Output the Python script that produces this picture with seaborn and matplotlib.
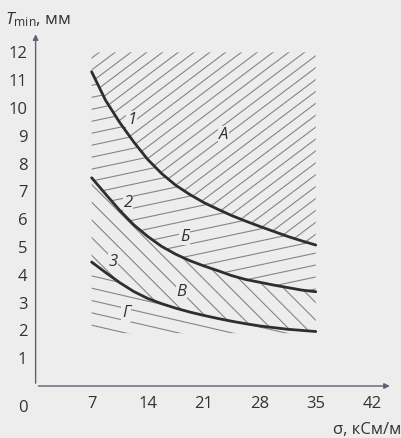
import numpy as np
import pandas as pd
import matplotlib
matplotlib.use('Agg')
import matplotlib.pyplot as plt
from matplotlib.collections import LineCollection
import seaborn as sns

# values
sigma = [7, 8.75, 10.5, 12.25, 14, 15.75, 17.5, 19.25, 21,
         22.75, 24.5, 26.25, 28, 29.75, 31.5, 33.25, 35]
curve1 = [11.3, 10.27, 9.48, 8.78, 8.15, 7.64, 7.22, 6.89, 6.6,
          6.36, 6.13, 5.93, 5.74, 5.56, 5.38, 5.22, 5.07]
curve2 = [7.49, 6.9, 6.32, 5.8, 5.38, 5.02, 4.74, 4.51, 4.32,
          4.15, 3.97, 3.83, 3.73, 3.63, 3.54, 3.45, 3.39]
curve3 = [4.46, 4.08, 3.72, 3.4, 3.15, 2.96, 2.8, 2.66, 2.54,
          2.43, 2.33, 2.24, 2.16, 2.1, 2.04, 2.0, 1.96]
zone_top = 12
zone_bottom = 1.9

x_ticks = [7, 14, 21, 28, 35, 42]
y_ticks = list(range(1, 13))
curve_names = ['1', '2', '3']
zone_names = ['А', 'Б', 'В', 'Г']

df = pd.DataFrame({
    'sigma': sigma * 3,
    'T': curve1 + curve2 + curve3,
    'curve': sum([[n] * len(sigma) for n in curve_names], []),
})

sns.set_style('white')
plt.rcParams['font.family'] = ['Open Sans', 'DejaVu Sans']
plt.rcParams['mathtext.fontset'] = 'custom'
plt.rcParams['mathtext.it'] = 'Open Sans:italic'
plt.rcParams['mathtext.rm'] = 'Open Sans'

bg = '#ededed'
txt = '#333333'
axis_col = '#5c6272'
hatch_col = '#858585'

fig = plt.figure(figsize=(4.02, 4.38), dpi=100, facecolor=bg)
ax = fig.add_axes([0.0886, 0.1187, 0.888, 0.8094])
ax.set_facecolor(bg)
ax.set_xlim(0, 44.6)
ax.set_ylim(0, 12.75)


def hatch(ax, poly, angle, step, color=hatch_col, lw=0.8):
    # parallel lines in pixel space, clipped to the region polygon
    a = np.deg2rad(angle)
    d = np.array([np.cos(a), np.sin(a)])
    n = np.array([-np.sin(a), np.cos(a)])
    bb = ax.bbox
    c = np.array([(bb.x0 + bb.x1) / 2, (bb.y0 + bb.y1) / 2])
    L = max(bb.width, bb.height)
    inv = ax.transData.inverted()
    segs = []
    for k in np.arange(-L, L, step):
        p = c + n * k
        segs.append(inv.transform(np.array([p - d * L, p + d * L])))
    lc = LineCollection(segs, colors=color, linewidths=lw)
    ax.add_collection(lc, autolim=False)
    lc.set_clip_path(poly.get_paths()[0], poly.get_transform())


s = np.array(sigma)
regions = [
    (ax.fill_between(s, curve1, zone_top, color='none', lw=0), 37, 9.5),
    (ax.fill_between(s, curve2, curve1, color='none', lw=0), 12, 11.7),
    (ax.fill_between(s, curve3, curve2, color='none', lw=0), -45, 12.5),
    (ax.fill_between(s, zone_bottom, curve3, color='none', lw=0), -13, 12),
]
for poly, ang, step in regions:
    hatch(ax, poly, ang, step)

sns.lineplot(data=df, x='sigma', y='T', units='curve', estimator=None,
             color='#2e2e2e', lw=2, ax=ax, legend=False)
ax.set_xlim(0, 44.6)
ax.set_ylim(0, 12.75)

# curve and zone labels
curve_pos = [(12.0, 9.57), (11.55, 6.57), (9.7, 4.47)]
zone_pos = [(23.5, 9.03), (18.6, 5.37), (18.2, 3.39), (11.3, 2.61)]
for name, (x, y) in zip(curve_names + zone_names, curve_pos + zone_pos):
    ax.text(x, y, name, fontsize=12, style='italic', color=txt,
            ha='center', va='center', bbox=dict(fc=bg, ec='none', pad=0.5))

# axes with arrows
for sp in ax.spines.values():
    sp.set_visible(False)
ax.annotate('', xy=(1, 0), xytext=(0, 0), xycoords='axes fraction',
            arrowprops=dict(arrowstyle='-|>', color=axis_col, lw=1, mutation_scale=8))
ax.annotate('', xy=(0, 1), xytext=(0, 0), xycoords='axes fraction',
            arrowprops=dict(arrowstyle='-|>', color=axis_col, lw=1, mutation_scale=8))

ax.set_xticks(x_ticks)
ax.set_yticks(y_ticks)
ax.tick_params(axis='both', direction='in', length=5, width=1, color=axis_col,
               labelsize=12, labelcolor=txt)
ax.tick_params(axis='x', pad=7)
ax.tick_params(axis='y', pad=6)
ax.set_xlabel('')
ax.set_ylabel('')
ax.text(-1.6, -0.8, '0', fontsize=12, color=txt, ha='center', va='center',
        transform=ax.transData, clip_on=False)

fig.text(5 / 402, 1 - 24 / 438, r'$\mathit{T}_{\mathrm{min}}$, мм', fontsize=12.5,
         color=txt, ha='left', va='baseline')
fig.text(401 / 402, 1 - 434 / 438, 'σ, кСм/м', fontsize=12, color=txt,
         ha='right', va='baseline')

fig.savefig('out.png', dpi=100, facecolor=bg)
